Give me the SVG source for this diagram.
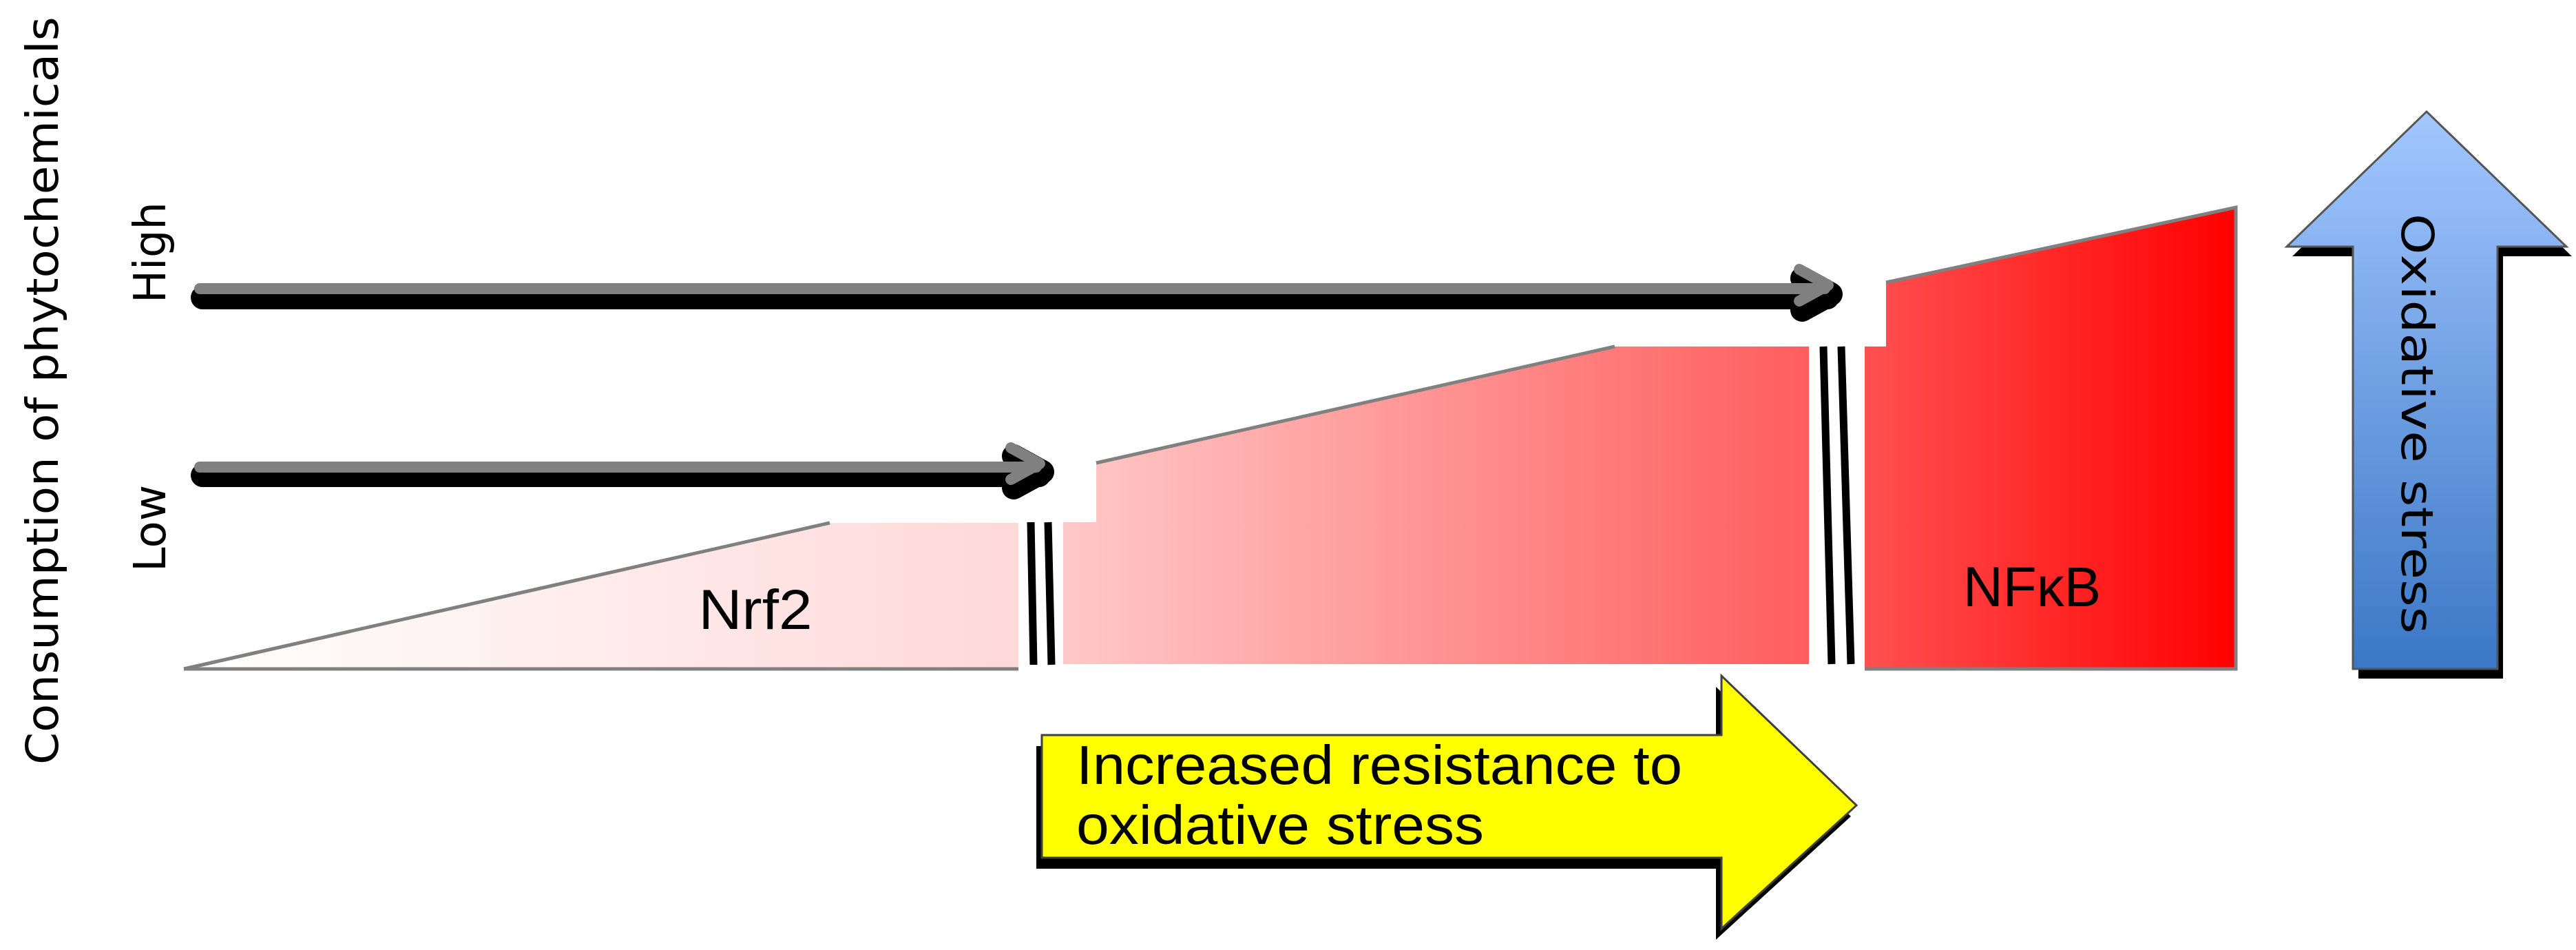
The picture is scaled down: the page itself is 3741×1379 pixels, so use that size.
<svg xmlns="http://www.w3.org/2000/svg" width="3741" height="1379" viewBox="0 0 3741 1379">
<defs>
<linearGradient id="red" gradientUnits="userSpaceOnUse" x1="267" y1="0" x2="3247" y2="0">
<stop offset="0" stop-color="#ffffff"/>
<stop offset="0.407" stop-color="#ffd8d8"/>
<stop offset="0.43" stop-color="#ffc8c8"/>
<stop offset="0.79" stop-color="#ff5e5e"/>
<stop offset="0.82" stop-color="#ff5050"/>
<stop offset="1" stop-color="#ff0000"/>
</linearGradient>
<linearGradient id="blue" x1="0" y1="0" x2="0" y2="1">
<stop offset="0" stop-color="#a3c7ff"/>
<stop offset="1" stop-color="#3b77c6"/>
</linearGradient>
<style>
.edge{fill:none;stroke:#808080;stroke-width:5}
.brk{stroke:#000;stroke-width:11}
.shad{fill:none;stroke:#000;stroke-width:34;stroke-linecap:round;stroke-linejoin:round}
.gray{fill:none;stroke:#808080;stroke-width:16;stroke-linecap:round;stroke-linejoin:round}
.lab{font-family:"DejaVu Sans",sans-serif;font-size:64px;fill:#000}
.cal{font-family:"Liberation Sans",sans-serif;fill:#000}
</style>
</defs>
<g id="ramp">
<polygon points="267,971 1205,759 1479,759 1479,971" fill="url(#red)"/>
<polyline class="edge" points="267,971 1205,759"/>
<line class="edge" x1="267" y1="971" x2="1479" y2="971"/>
<polygon points="1544,964 1544,758 1592,758 1592,672 2345,503 2627,503 2627,964" fill="url(#red)"/>
<polyline class="edge" points="1592,672 2345,503"/>
<polygon points="2708,971 2708,503 2739,503 2739,410 3247,301 3247,971" fill="url(#red)"/>
<polyline class="edge" points="2739,410 3247,301 3247,971 2708,971"/>
</g>
<g id="breaks">
<line class="brk" x1="1497" y1="758" x2="1501" y2="965"/>
<line class="brk" x1="1522" y1="758" x2="1527" y2="965"/>
<line class="brk" x1="2648" y1="503" x2="2660" y2="964"/>
<line class="brk" x1="2674" y1="503" x2="2688" y2="964"/>
</g>
<g id="connectors">
<g transform="translate(4,10)">
<line class="shad" x1="290" y1="680" x2="1505" y2="680"/>
<polyline class="shad" points="1468,652 1510,675 1468,698"/>
<line class="shad" x1="290" y1="422" x2="2650" y2="422"/>
<polyline class="shad" points="2613,394 2655,417 2613,440"/>
</g>
<line class="gray" x1="290" y1="678" x2="1505" y2="678"/>
<polyline class="gray" points="1468,650 1510,673 1468,696"/>
<line class="gray" x1="290" y1="419" x2="2650" y2="419"/>
<polyline class="gray" points="2613,391 2655,414 2613,437"/>
</g>
<g id="yellow-arrow">
<polygon points="1505,1083 2492,1083 2492,997 2688,1185 2492,1364 2492,1261 1505,1261" fill="#000"/>
<polygon points="1513,1067 2500,1067 2500,981 2696,1169 2500,1348 2500,1245 1513,1245" fill="#ffff00" stroke="#404040" stroke-width="3"/>
<text class="cal" x="1563" y="1138" font-size="80" textLength="880" lengthAdjust="spacingAndGlyphs">Increased resistance to</text>
<text class="cal" x="1563" y="1225" font-size="80" textLength="592" lengthAdjust="spacingAndGlyphs">oxidative stress</text>
</g>
<g id="blue-arrow">
<polygon points="3425,985 3635,985 3635,372 3735,372 3532,176 3329,372 3425,372" fill="#000"/>
<polygon points="3417,971 3627,971 3627,358 3727,358 3524,162 3321,358 3417,358" fill="url(#blue)" stroke="#555" stroke-width="3"/>
<text class="lab" transform="translate(3488,310) rotate(90)" font-size="76" textLength="610" lengthAdjust="spacingAndGlyphs">Oxidative stress</text>
</g>
<g id="labels">
<text class="lab" transform="translate(84,1110) rotate(-90)" textLength="1086" lengthAdjust="spacingAndGlyphs">Consumption of phytochemicals</text>
<text class="lab" transform="translate(240,440) rotate(-90)" font-size="66">High</text>
<text class="lab" transform="translate(240,830) rotate(-90)" font-size="66">Low</text>
<text class="cal" x="1097" y="913" font-size="82" text-anchor="middle" textLength="165" lengthAdjust="spacingAndGlyphs">Nrf2</text>
<text class="cal" x="2951" y="880" font-size="82" text-anchor="middle" textLength="200" lengthAdjust="spacingAndGlyphs">NFκB</text>
</g>
</svg>
